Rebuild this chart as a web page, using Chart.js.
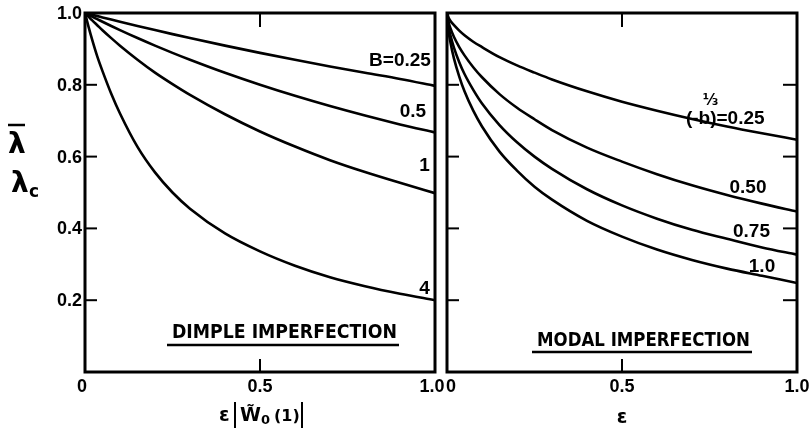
<!DOCTYPE html>
<html><head><meta charset="utf-8">
<script src="https://cdn.jsdelivr.net/npm/chart.js@4.4.0/dist/chart.umd.min.js"></script>
<style>
html,body{margin:0;padding:0;background:#fff;width:810px;height:428px;overflow:hidden}
canvas{position:absolute;left:0;top:0}
</style></head><body>
<canvas id="c1" width="810" height="428"></canvas>
<canvas id="c2" width="810" height="428"></canvas>
<script>
// ---- data ----
const epsGrid = [0, 0.005, 0.01, 0.02, 0.035, 0.05, 0.075, 0.1, 0.15, 0.2, 0.25, 0.3, 0.4, 0.5, 0.6, 0.7, 0.8, 0.9, 1.0];
// Dimple imperfection, B values
const dimpleB025 = [1, 0.9988, 0.9975, 0.995, 0.9913, 0.9877, 0.9816, 0.9756, 0.9639, 0.9524, 0.9412, 0.9302, 0.9091, 0.8889, 0.8696, 0.851, 0.8333, 0.8163, 0.797];
const dimpleB05  = [1, 0.9975, 0.995, 0.990, 0.9828, 0.9756, 0.9639, 0.9524, 0.9302, 0.9091, 0.8889, 0.8696, 0.8333, 0.80, 0.7692, 0.7407, 0.7143, 0.6897, 0.667];
const dimpleB1   = [1, 0.995, 0.990, 0.980, 0.966, 0.952, 0.930, 0.909, 0.870, 0.834, 0.802, 0.772, 0.718, 0.670, 0.628, 0.590, 0.557, 0.527, 0.498];
const dimpleB4   = [1, 0.981, 0.962, 0.927, 0.879, 0.838, 0.775, 0.720, 0.627, 0.556, 0.500, 0.455, 0.386, 0.336, 0.296, 0.264, 0.239, 0.218, 0.200];
// Modal imperfection, (-b)^(1/3) values
const modal025 = [1, 0.986, 0.978, 0.966, 0.951, 0.938, 0.920, 0.905, 0.877, 0.854, 0.834, 0.815, 0.782, 0.753, 0.728, 0.705, 0.684, 0.665, 0.647];
const modal050 = [1, 0.973, 0.957, 0.933, 0.905, 0.882, 0.849, 0.821, 0.774, 0.736, 0.704, 0.674, 0.625, 0.586, 0.551, 0.520, 0.493, 0.469, 0.447];
const modal075 = [1, 0.960, 0.937, 0.903, 0.863, 0.830, 0.786, 0.748, 0.688, 0.640, 0.600, 0.566, 0.509, 0.464, 0.427, 0.396, 0.371, 0.347, 0.327];
const modal100 = [1, 0.947, 0.917, 0.873, 0.823, 0.782, 0.728, 0.684, 0.614, 0.561, 0.516, 0.480, 0.421, 0.377, 0.341, 0.312, 0.288, 0.268, 0.248];
// ticks
const yTickValues = [0.2, 0.4, 0.6, 0.8, 1.0];
const yTickLabels = ['0.2', '0.4', '0.6', '0.8', '1.0'];
const xTickValues = [0, 0.5, 1.0];
const xTickLabels = ['0', '0.5', '1.0'];
const dimpleCurveLabels = ['B=0.25', '0.5', '1', '4'];
const modalCurveLabels = ['=0.25', '0.50', '0.75', '1.0'];

const TICKF = 'bold 18px "Liberation Sans", Arial, sans-serif';
const CURVEF = 'bold 19px "Liberation Sans", Arial, sans-serif';

function mk(xs, ys) { return xs.map((x, i) => ({x: x, y: ys[i]})); }
function ds(ys) {
  return { data: mk(epsGrid, ys), borderColor: '#000', borderWidth: 2.6, pointRadius: 0,
           fill: false, cubicInterpolationMode: 'monotone' };
}

function framePlugin(cfg) {
  return {
    id: 'frame_' + cfg.name,
    afterDraw(chart) {
      const ctx = chart.ctx, a = chart.chartArea, X = chart.scales.x, Y = chart.scales.y;
      ctx.save();
      ctx.strokeStyle = '#000'; ctx.fillStyle = '#000';
      ctx.lineWidth = 3; ctx.lineCap = 'square';
      ctx.strokeRect(a.left, a.top, a.right - a.left, a.bottom - a.top);
      ctx.lineWidth = 2; ctx.lineCap = 'butt';
      yTickValues.forEach(v => {
        if (v >= 1) return;
        const py = Y.getPixelForValue(v);
        ctx.beginPath(); ctx.moveTo(a.left, py); ctx.lineTo(a.left + 12, py); ctx.stroke();
        if (cfg.rightTicks) { ctx.beginPath(); ctx.moveTo(a.right, py); ctx.lineTo(a.right - 14, py); ctx.stroke(); }
      });
      const pm = X.getPixelForValue(0.5);
      ctx.beginPath(); ctx.moveTo(pm, a.top); ctx.lineTo(pm, a.top + 14);
      ctx.moveTo(pm, a.bottom); ctx.lineTo(pm, a.bottom - 13); ctx.stroke();
      // x tick labels
      ctx.font = TICKF; ctx.textAlign = 'center'; ctx.textBaseline = 'middle';
      xTickValues.forEach((v, i) => {
        let px = X.getPixelForValue(v);
        if (cfg.name === 'dimple' && v === 0) px -= 3;
        if (cfg.name === 'modal' && v === 0) px += 4;
        if (cfg.name === 'dimple' && v === 1) px -= 3;
        ctx.fillText(xTickLabels[i], px, a.bottom + 15);
      });
      // y tick labels
      if (cfg.yLabels) {
        ctx.textAlign = 'right';
        yTickValues.forEach((v, i) => ctx.fillText(yTickLabels[i], a.left - 3, Y.getPixelForValue(v) + 1));
      }
      cfg.extra(ctx, a, X, Y);
      ctx.restore();
    }
  };
}

function underlinedTitle(ctx, text, x0, x1, yc, yu) {
  ctx.font = '600 20px "DejaVu Sans", sans-serif';
  ctx.textAlign = 'left'; ctx.textBaseline = 'middle';
  ctx.fillText(text, x0, yc, x1 - x0);
  ctx.lineWidth = 2.5;
  ctx.beginPath(); ctx.moveTo(x0 - 5, yu); ctx.lineTo(x1 + 2, yu); ctx.stroke();
}

const common = (padL, padR) => ({
  responsive: false, animation: false, devicePixelRatio: 1,
  layout: { padding: { left: padL, right: padR, top: 13, bottom: 56 } },
  plugins: { legend: { display: false }, tooltip: { enabled: false } },
  scales: {
    x: { type: 'linear', min: 0, max: 1, display: false },
    y: { type: 'linear', min: 0, max: 1, display: false }
  }
});

new Chart(document.getElementById('c1'), {
  type: 'line',
  data: { datasets: [ds(dimpleB025), ds(dimpleB05), ds(dimpleB1), ds(dimpleB4)] },
  options: common(85, 375),
  plugins: [framePlugin({ name: 'dimple', rightTicks: false, yLabels: true, extra: (ctx, a, X, Y) => {
    ctx.font = CURVEF; ctx.textBaseline = 'middle'; ctx.textAlign = 'center';
    ctx.fillText(dimpleCurveLabels[0], X.getPixelForValue(0.9), Y.getPixelForValue(0.866));
    ctx.fillText(dimpleCurveLabels[1], X.getPixelForValue(0.937), Y.getPixelForValue(0.724));
    ctx.fillText(dimpleCurveLabels[2], X.getPixelForValue(0.97), Y.getPixelForValue(0.574));
    ctx.fillText(dimpleCurveLabels[3], X.getPixelForValue(0.97), Y.getPixelForValue(0.232));
    underlinedTitle(ctx, 'DIMPLE IMPERFECTION', 172, 397, 333, 345);
    // x axis title  ε|W̃0(1)|
    ctx.font = 'bold 19px "DejaVu Sans", sans-serif'; ctx.textAlign = 'left'; ctx.textBaseline = 'alphabetic';
    ctx.fillText('ε', 219, 421);
    ctx.lineWidth = 2;
    ctx.beginPath(); ctx.moveTo(235, 402); ctx.lineTo(235, 428); ctx.stroke();
    ctx.fillText('W̃', 240, 421);
    ctx.font = 'bold 13px "DejaVu Sans", sans-serif';
    ctx.fillText('0', 261, 424);
    ctx.font = 'bold 16px "DejaVu Sans", sans-serif';
    ctx.fillText('(1)', 274, 421);
    ctx.beginPath(); ctx.moveTo(302, 402); ctx.lineTo(302, 428); ctx.stroke();
    // y axis title  λ̄ / λc
    ctx.font = 'bold 28px "DejaVu Sans", sans-serif';
    ctx.fillText('λ', 8, 153);
    ctx.beginPath(); ctx.lineWidth = 2.5; ctx.moveTo(8, 125); ctx.lineTo(25, 125); ctx.stroke();
    ctx.fillText('λ', 11, 192);
    ctx.font = 'bold 17px "DejaVu Sans", sans-serif';
    ctx.fillText('c', 29, 197);
  } })]
});

new Chart(document.getElementById('c2'), {
  type: 'line',
  data: { datasets: [ds(modal025), ds(modal050), ds(modal075), ds(modal100)] },
  options: common(447, 13),
  plugins: [framePlugin({ name: 'modal', rightTicks: true, yLabels: false, extra: (ctx, a, X, Y) => {
    ctx.font = CURVEF; ctx.textBaseline = 'middle';
    const lx = X.getPixelForValue(0.77), ly = Y.getPixelForValue(0.706);
    ctx.textAlign = 'right';
    ctx.fillText('(-b)', lx, ly);
    ctx.textAlign = 'left';
    ctx.fillText(modalCurveLabels[0], lx, ly);
    ctx.font = 'bold 15px "DejaVu Sans", sans-serif'; ctx.textAlign = 'center';
    ctx.fillText('⅓', lx - 6, ly - 17);
    ctx.font = CURVEF; ctx.textAlign = 'center';
    ctx.fillText(modalCurveLabels[1], X.getPixelForValue(0.86), Y.getPixelForValue(0.512));
    ctx.fillText(modalCurveLabels[2], X.getPixelForValue(0.87), Y.getPixelForValue(0.39));
    ctx.fillText(modalCurveLabels[3], X.getPixelForValue(0.9), Y.getPixelForValue(0.292));
    underlinedTitle(ctx, 'MODAL IMPERFECTION', 537, 750, 341, 352);
    ctx.font = 'bold 19px "DejaVu Sans", sans-serif'; ctx.textAlign = 'center'; ctx.textBaseline = 'alphabetic';
    ctx.fillText('ε', X.getPixelForValue(0.5), 423);
  } })]
});
</script>
</body></html>
